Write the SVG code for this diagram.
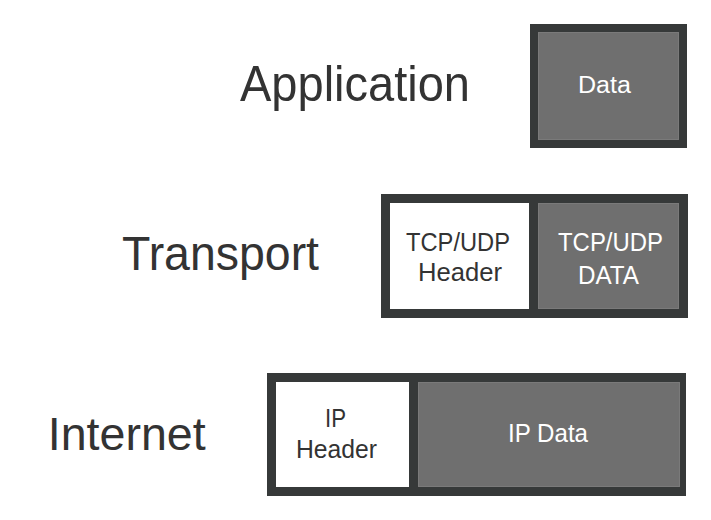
<svg xmlns="http://www.w3.org/2000/svg" width="711" height="520" viewBox="0 0 711 520">
<style>
text{font-family:"Liberation Sans",Arial,sans-serif}
.lbl{fill:#333333}
.w{fill:#ffffff}
.d{fill:#333333}
.frame{fill:#363939}
.gray{fill:#6f6f6f;stroke:#7a7a7a;stroke-width:1}
.white{fill:#ffffff}
</style>
<rect width="711" height="520" fill="#ffffff"/>
<g id="application">
<text class="lbl" x="240" y="101" font-size="50" textLength="230" lengthAdjust="spacingAndGlyphs">Application</text>
<rect class="frame" x="530" y="24" width="157" height="124"/>
<rect class="gray" x="538.5" y="32.5" width="140" height="107"/>
<text class="w" x="578" y="92.7" font-size="23.5" textLength="53" lengthAdjust="spacingAndGlyphs">Data</text>
</g>
<g id="transport">
<text class="lbl" x="122" y="270" font-size="48" textLength="197" lengthAdjust="spacingAndGlyphs">Transport</text>
<rect class="frame" x="381" y="194" width="307" height="124"/>
<rect class="white" x="390" y="203" width="139" height="106"/>
<rect class="gray" x="538.5" y="203.5" width="140" height="105"/>
<text class="d" x="406" y="251" font-size="26" textLength="104" lengthAdjust="spacingAndGlyphs">TCP/UDP</text>
<text class="d" x="418" y="281" font-size="26" textLength="84" lengthAdjust="spacingAndGlyphs">Header</text>
<text class="w" x="558" y="251" font-size="26" textLength="105" lengthAdjust="spacingAndGlyphs">TCP/UDP</text>
<text class="w" x="578" y="284" font-size="26" textLength="61" lengthAdjust="spacingAndGlyphs">DATA</text>
</g>
<g id="internet">
<text class="lbl" x="47.7" y="450" font-size="47" textLength="158" lengthAdjust="spacingAndGlyphs">Internet</text>
<rect class="frame" x="267" y="373" width="419" height="123"/>
<rect class="white" x="276" y="382" width="133" height="105"/>
<rect class="gray" x="418.5" y="382.5" width="261" height="104"/>
<text class="d" x="325" y="426.7" font-size="25.5" textLength="21" lengthAdjust="spacingAndGlyphs">IP</text>
<text class="d" x="296" y="458.3" font-size="25.5" textLength="81" lengthAdjust="spacingAndGlyphs">Header</text>
<text class="w" x="508" y="442.3" font-size="25.5" textLength="80" lengthAdjust="spacingAndGlyphs">IP Data</text>
</g>
<g id="connectors"></g>
</svg>
